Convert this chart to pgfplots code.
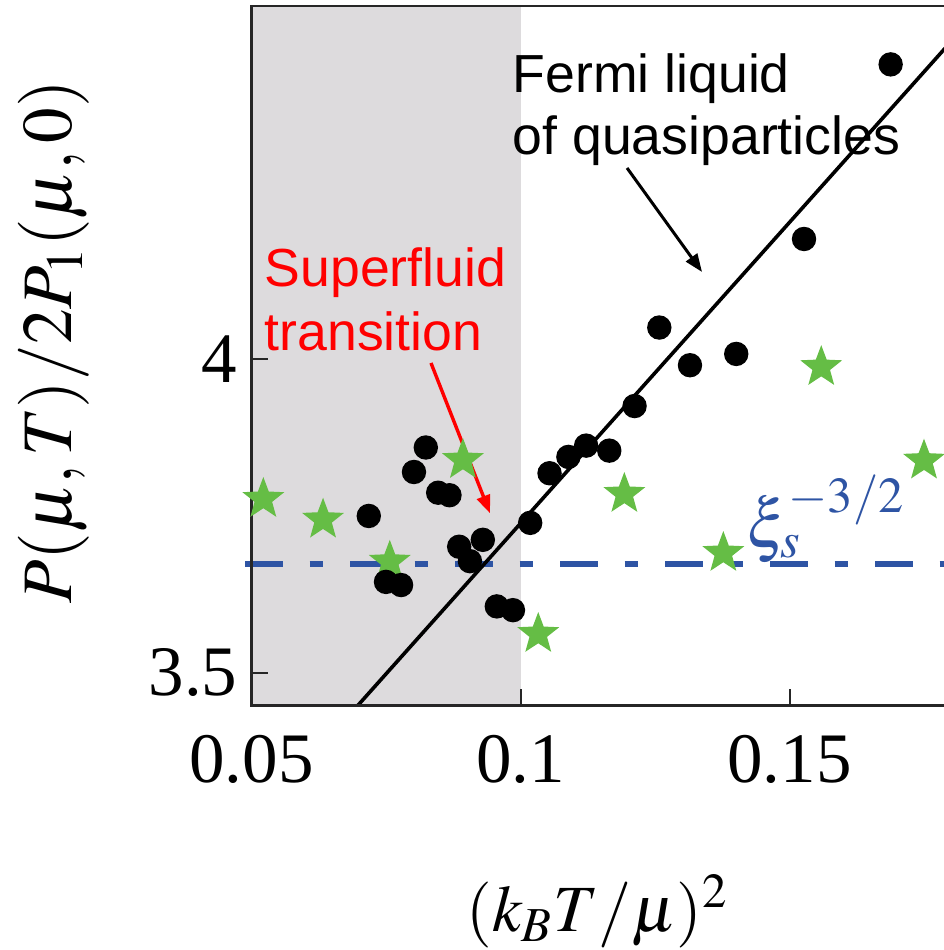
\documentclass[border=0pt]{standalone}
\usepackage{mathptmx}
\usepackage{fontspec}
\setmainfont{Liberation Serif}
\newfontfamily\arialf{Liberation Sans}
\usepackage{pgfplots}
\usepackage{pgfplotstable}
\pgfplotsset{compat=1.18}
\usetikzlibrary{arrows.meta}

\definecolor{shadecol}{RGB}{221,219,221}
\definecolor{starcol}{RGB}{101,189,69}
\definecolor{dashblue}{RGB}{46,84,164}

% filled five-pointed star
\pgfdeclareplotmark{fstar}{%
  \pgfpathmoveto{\pgfqpointpolar{90}{\pgfplotmarksize}}%
  \pgfpathlineto{\pgfqpointpolar{126}{0.42\pgfplotmarksize}}%
  \pgfpathlineto{\pgfqpointpolar{162}{\pgfplotmarksize}}%
  \pgfpathlineto{\pgfqpointpolar{198}{0.42\pgfplotmarksize}}%
  \pgfpathlineto{\pgfqpointpolar{234}{\pgfplotmarksize}}%
  \pgfpathlineto{\pgfqpointpolar{270}{0.42\pgfplotmarksize}}%
  \pgfpathlineto{\pgfqpointpolar{306}{\pgfplotmarksize}}%
  \pgfpathlineto{\pgfqpointpolar{342}{0.42\pgfplotmarksize}}%
  \pgfpathlineto{\pgfqpointpolar{18}{\pgfplotmarksize}}%
  \pgfpathlineto{\pgfqpointpolar{54}{0.42\pgfplotmarksize}}%
  \pgfpathclose
  \pgfusepathqfill
}

\pgfplotstableread{
x y
0.0718 3.750
0.0750 3.645
0.0778 3.640
0.0802 3.820
0.0824 3.859
0.0847 3.787
0.0868 3.783
0.0886 3.701
0.0906 3.678
0.0930 3.712
0.0956 3.606
0.0986 3.600
0.1018 3.739
0.1054 3.818
0.1089 3.844
0.1122 3.862
0.1165 3.854
0.1212 3.925
0.1258 4.050
0.1315 3.990
0.1401 4.008
0.1527 4.191
0.1688 4.469
}\dots

\pgfplotstableread{
x y
0.0522 3.777
0.0633 3.744
0.0757 3.677
0.0893 3.839
0.1033 3.562
0.1193 3.785
0.1377 3.691
0.1559 3.987
0.1750 3.838
}\stars

\begin{document}
\begin{tikzpicture}
\begin{axis}[
  scale only axis, width=188.3pt, height=174.875pt,
  xmin=0.05, xmax=0.19, ymin=3.4482, ymax=4.562,
  clip=false, axis on top,
  xtick={0.05,0.1,0.15}, xticklabels={0.05,0.1,0.15},
  ytick={3.5,4}, yticklabels={3.5,4},
  xtick pos=bottom, ytick pos=left,
  tick align=inside, major tick length=4.2pt,
  tick style={black!85, line width=0.5pt},
  axis line style={black!85, line width=0.6pt},
  ticklabel style={font=\fontsize{17.75}{20}\selectfont},
  xticklabel style={yshift=-4pt},
  label style={font=\fontsize{17.75}{20}\selectfont},
  xlabel={$(k_BT/\mu)^2$},
  ylabel={$P(\mu,T)/2P_1(\mu,0)$},
  xlabel style={font=\fontsize{16.5}{19}\selectfont, at={(axis description cs:0.46,-0.3237)}, anchor=base},
  ylabel style={at={(axis description cs:-0.2623,0.52)}, anchor=center},
]
\fill[shadecol] (axis cs:0.05,3.4482) rectangle (axis cs:0.1,4.562);

\node[anchor=base west, inner sep=0, font=\arialf\fontsize{13.4}{16}\selectfont] at (axis cs:0.09842,4.424) {Fermi liquid};
\node[anchor=base west, inner sep=0, font=\arialf\fontsize{13.4}{16}\selectfont] at (axis cs:0.09842,4.325) {of quasiparticles};
\node[anchor=base west, inner sep=0, text=red, font=\arialf\fontsize{13.4}{16}\selectfont] at (axis cs:0.05232,4.1151) {Superfluid};
\node[anchor=base west, inner sep=0, text=red, font=\arialf\fontsize{13.4}{16}\selectfont] at (axis cs:0.05232,4.0132) {transition};

\addplot[only marks, mark=fstar, mark size=5.5pt, color=starcol] table[x=x, y=y] {\stars};

\addplot[dashblue, line width=1.5pt,
  dash pattern=on 9.42pt off 6.75pt on 3.33pt off 6.75pt]
  coordinates {(0.0488,3.673) (0.19,3.673)};

\addplot[black, line width=0.9pt] coordinates {(0.06976,3.4482) (0.185,4.553)};

\addplot[only marks, mark=*, mark size=2.85pt, black] table[x=x, y=y] {\dots};

\draw[red, line width=0.85pt, -{Triangle[length=4.5pt,width=3.4pt]}]
  (axis cs:0.08336,3.9936) -- (axis cs:0.09433,3.7543);
\draw[black, line width=0.75pt, -{Triangle[length=4.5pt,width=3.4pt]}]
  (axis cs:0.1198,4.3041) -- (axis cs:0.13374,4.1385);

\node[anchor=base west, inner sep=0, text=dashblue, font=\fontsize{17}{20}\selectfont]
  at (axis cs:0.1419,3.699) {$\xi_s^{-3/2}$};
\end{axis}
\pgfresetboundingbox
\useasboundingbox (-62.875pt,-61.125pt) rectangle (172.875pt,176.375pt);
\end{tikzpicture}
\end{document}
